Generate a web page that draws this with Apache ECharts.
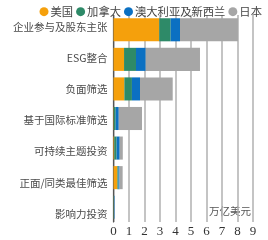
<!DOCTYPE html>
<html><head><meta charset="utf-8">
<script src="https://cdn.jsdelivr.net/npm/echarts@6/dist/echarts.min.js"></script>
<style>html,body{margin:0;padding:0;background:#fff}#c{width:268px;height:240px}</style>
</head><body><div id="c"></div>
<script>
const categories = ['企业参与及股东主张','ESG整合','负面筛选','基于国际标准筛选','可持续主题投资','正面/同类最佳筛选','影响力投资'];
const seriesNames = ['美国','加拿大','澳大利亚及新西兰','日本'];
const usa = [2.95, 0.68, 0.7, 0.02, 0.05, 0.25, 0.01];
const canada = [0.74, 0.77, 0.49, 0.12, 0.15, 0.07, 0.02];
const ausnz = [0.6, 0.63, 0.52, 0.2, 0.2, 0.07, 0.03];
const japan = [3.74, 3.5, 2.11, 1.5, 0.2, 0.2, 0.0];
const xTicks = [0,1,2,3,4,5,6,7,8,9];
const unitLabel = '万亿美元';
const colors = ['#F5A00C','#2E8A68','#0B70C2','#A6A6A6'];
const values = [usa, canada, ausnz, japan];

const chart = echarts.init(document.getElementById('c'));
chart.setOption({
  animation: false,
  color: colors,
  legend: {
    top: 1, left: 34.5, itemWidth: 9, itemHeight: 9, itemGap: 3, icon: 'circle',
    textStyle: {fontFamily: 'Noto Sans CJK SC', fontSize: 11.3, color: '#444', padding: [0,0,0,-3]},
    data: seriesNames
  },
  grid: [
    {left: 113.5, right: 15, top: 15, bottom: 18, containLabel: false},
    {left: 113.5, right: 15, top: 11, bottom: 10.5, containLabel: false}
  ],
  xAxis: [{
    type: 'value', min: 0, max: 9, interval: 1, gridIndex: 0,
    axisLine: {show: false}, axisTick: {show: false},
    splitLine: {show: true, lineStyle: {color: '#B0B0B0', width: 1.5}},
    axisLabel: {show: true, margin: 3, fontFamily: 'Liberation Sans Narrow', fontSize: 13, color: '#333',
      formatter: v => xTicks.includes(v) ? String(v) : ''}
  }, {
    type: 'value', min: 0, max: 9, gridIndex: 1, show: false
  }],
  yAxis: [{
    type: 'category', inverse: true, data: categories, gridIndex: 0,
    axisLine: {show: true, lineStyle: {color: '#555', width: 1.2}},
    axisTick: {show: false},
    axisLabel: {show: false}
  }, {
    type: 'category', inverse: true, data: categories, gridIndex: 1,
    axisLine: {show: false}, axisTick: {show: false}, splitLine: {show: false},
    axisLabel: {margin: 6, fontFamily: 'Noto Sans CJK SC', fontSize: 10.5, color: '#4a4a4a'}
  }],
  graphic: [{
    type: 'text', left: 208, top: 205,
    style: {text: unitLabel, fontFamily: 'Noto Sans CJK SC', fontSize: 10.5, fill: '#555',
      backgroundColor: '#fff', padding: [1,1]}
  }],
  series: seriesNames.map((n, i) => ({
    name: n, type: 'bar', stack: 'all', data: values[i], barCategoryGap: '22%',
    xAxisIndex: 0, yAxisIndex: 0
  }))
});
</script></body></html>
